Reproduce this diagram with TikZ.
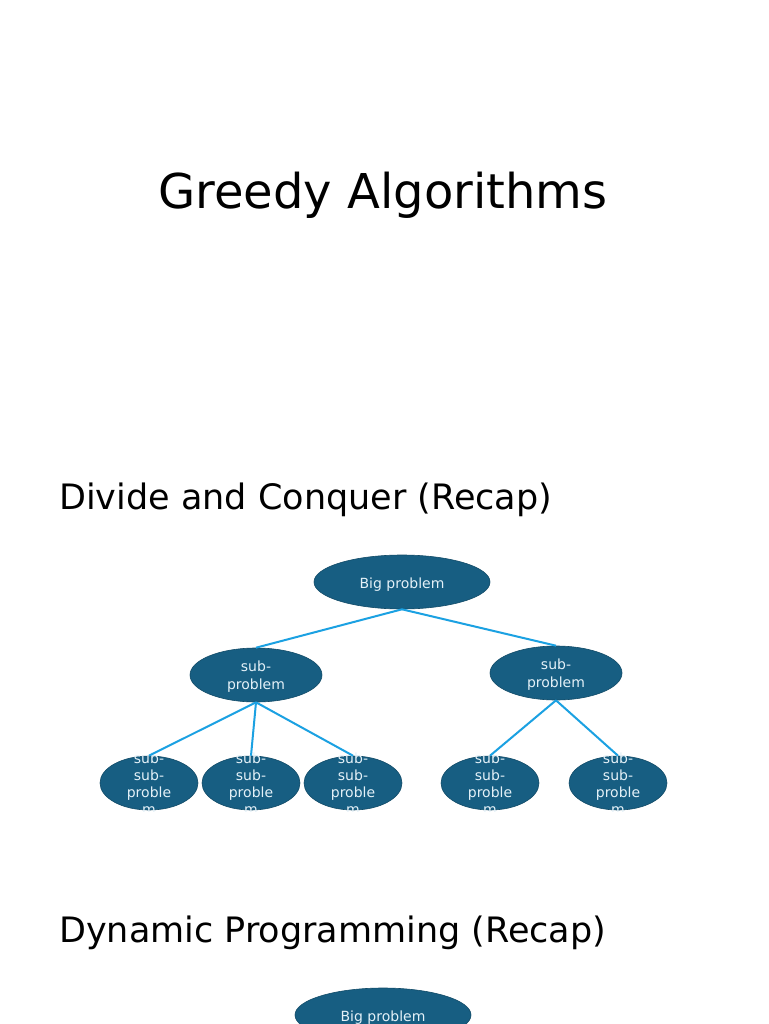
\documentclass[tikz,border=0pt]{standalone}
\usepackage{fontspec}
\setmainfont{DejaVu Sans}
\usetikzlibrary{shapes.geometric}
\definecolor{nodefill}{HTML}{175E82}
\definecolor{nodeedge}{HTML}{124B68}
\definecolor{nodetext}{HTML}{E4F1F8}
\definecolor{linkcol}{HTML}{1BA1E2}
\tikzset{
  bubble/.style={ellipse, draw=nodeedge, line width=0.6pt, fill=nodefill, inner sep=0pt},
  bubtext/.style={text=nodetext, font=\fontsize{14}{18}\selectfont, align=center, inner sep=0pt},
  bigbub/.style={bubble, minimum width=176pt, minimum height=54pt},
  midbub/.style={bubble, minimum width=132pt, minimum height=54pt},
  leafbub/.style={bubble, minimum width=98pt, minimum height=54pt},
  leaftext/.style={text=nodetext, font=\fontsize{14}{17}\selectfont, align=center, inner sep=0pt},
  link/.style={draw=linkcol, line width=2pt},
  heading/.style={anchor=west, inner sep=0pt, font=\fontsize{35}{40}\selectfont}
}
\begin{document}
\begin{tikzpicture}[x=1pt,y=-1pt]
\useasboundingbox[fill=white] (0,0) rectangle (768,1024);
\node[inner sep=0pt, font=\fontsize{48}{56}\selectfont] (title) at (383,195) {Greedy Algorithms};
\node[heading] (dc) at (59,500) {Divide and Conquer (Recap)};
\node[heading] (dp) at (59,933) {Dynamic Programming (Recap)};

\node[bigbub] (big) at (402,582) {};
\node[midbub] (s1) at (256,675) {};
\node[midbub] (s2) at (556,673) {};
\node[leafbub] (l1) at (149,783) {};
\node[leafbub] (l2) at (251,783) {};
\node[leafbub] (l3) at (353,783) {};
\node[leafbub] (l4) at (490,783) {};
\node[leafbub] (l5) at (618,783) {};

\node[bubtext] (bigt) at ([yshift=-3pt]big.center) {Big problem};
\node[bubtext] (s1t) at ([yshift=-1.5pt]s1.center) {sub-\\problem};
\node[bubtext] (s2t) at ([yshift=-1.5pt]s2.center) {sub-\\problem};

\begin{scope}
\clip (0,752) rectangle (768,811);
\foreach \n in {l1,l2,l3,l4,l5}{
  \node[leaftext] (\n t) at ([yshift=-0.5pt]\n.center) {sub-\\sub-\\proble\\m};
}
\end{scope}

\draw[link] (big.south) -- (s1.north);
\draw[link] (big.south) -- (s2.north);
\draw[link] (s1.south) -- (l1.north);
\draw[link] (s1.south) -- (l2.north);
\draw[link] (s1.south) -- (l3.north);
\draw[link] (s2.south) -- (l4.north);
\draw[link] (s2.south) -- (l5.north);

\node[bigbub] (big2) at (383,1015) {};
\node[bubtext] (big2t) at ([yshift=-3pt]big2.center) {Big problem};
\end{tikzpicture}
\end{document}
